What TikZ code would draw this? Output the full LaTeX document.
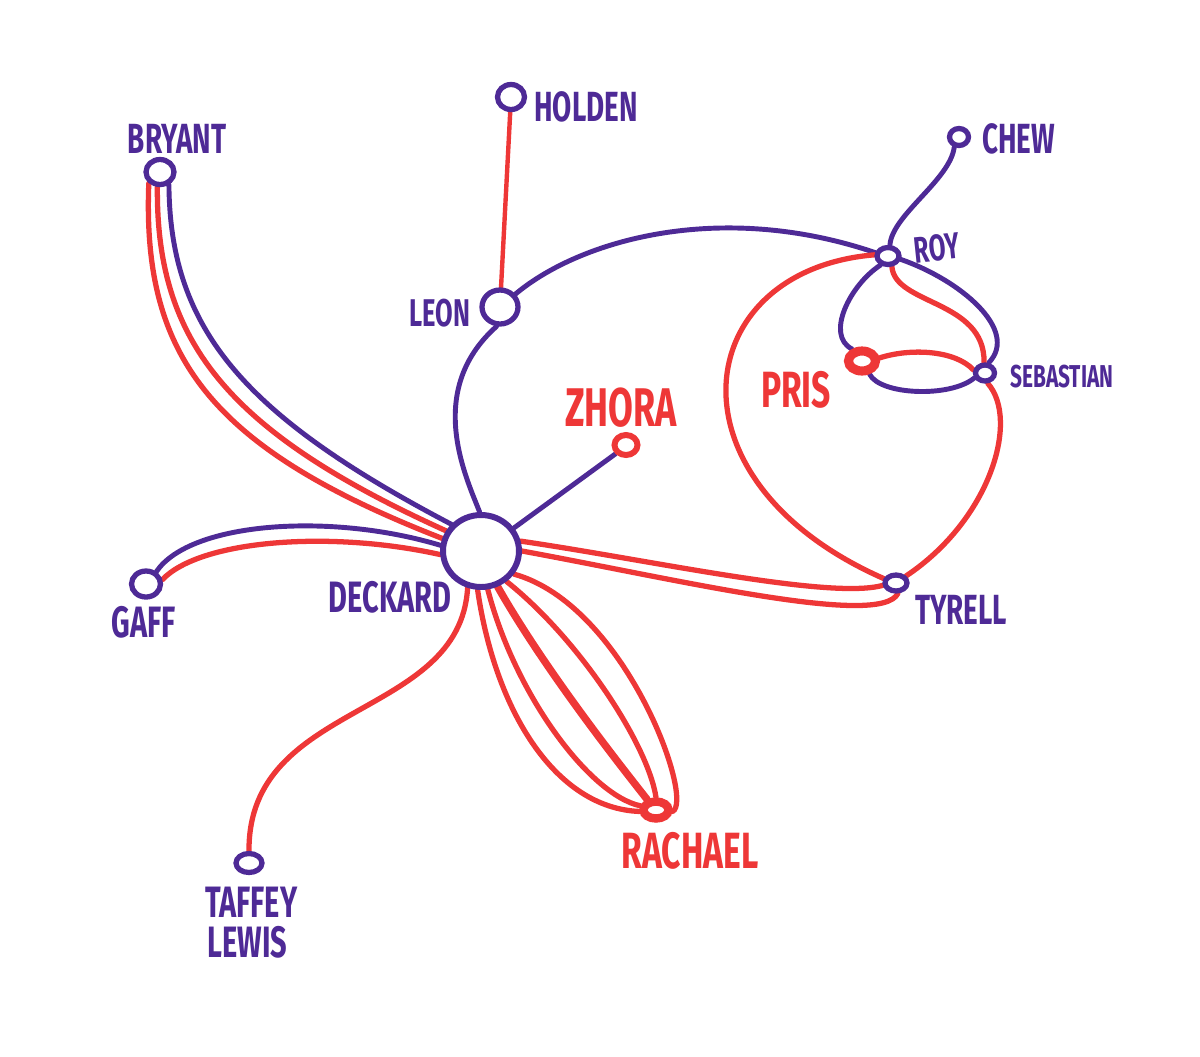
\documentclass[tikz,border=0pt]{standalone}
\usepackage{fontspec}
\usetikzlibrary{shapes.geometric,backgrounds}
\newfontfamily\hand[FakeStretch=0.66]{Fira Sans}
\definecolor{purp}{RGB}{78,42,150}
\definecolor{redm}{RGB}{238,55,55}
\begin{document}
\begin{tikzpicture}[x=0.02cm,y=-0.02cm,
  pnode/.style={ellipse,draw=purp,line width=3pt,fill=white,inner sep=0pt},
  rnode/.style={ellipse,draw=redm,line width=4.5pt,fill=white,inner sep=0pt},
  pedge/.style={draw=purp,line width=2.8pt,line cap=round},
  redge/.style={draw=redm,line width=3pt,line cap=round},
  lab/.style={inner sep=0pt,font=\hand\bfseries\fontsize{#1}{#1}\selectfont},
  plab/.style={lab=#1,text=purp},
  rlab/.style={lab=#1,text=redm}]
\useasboundingbox (0,0) rectangle (1200,1056);
% nodes
\node[pnode,minimum width=1.52cm,minimum height=1.44cm,line width=3.4pt] (deckard) at (481,551) {};
\node[pnode,minimum width=0.72cm,minimum height=0.68cm] (leon) at (500,307) {};
\node[pnode,minimum width=0.54cm,minimum height=0.50cm] (holden) at (511,97) {};
\node[pnode,minimum width=0.56cm,minimum height=0.50cm] (bryant) at (160,172) {};
\node[pnode,minimum width=0.58cm,minimum height=0.52cm] (gaff) at (146,584) {};
\node[pnode,minimum width=0.52cm,minimum height=0.38cm] (taffey) at (249,863) {};
\node[rnode,minimum width=0.46cm,minimum height=0.40cm,line width=3.4pt] (zhora) at (626,445) {};
\node[rnode,minimum width=0.50cm,minimum height=0.34cm,line width=4.8pt] (rachael) at (656,810) {};
\node[pnode,minimum width=0.44cm,minimum height=0.32cm] (tyrell) at (896,583) {};
\node[pnode,minimum width=0.44cm,minimum height=0.34cm] (roy) at (888,256) {};
\node[pnode,minimum width=0.38cm,minimum height=0.32cm] (sebastian) at (985,373) {};
\node[pnode,minimum width=0.38cm,minimum height=0.34cm] (chew) at (959,137) {};
\node[rnode,minimum width=0.54cm,minimum height=0.40cm,line width=5.2pt] (pris) at (862,361) {};
% labels
\node[plab=24] (lholden) at (586,107) {HOLDEN};
\node[plab=24] (lbryant) at (177,139) {BRYANT};
\node[plab=24,anchor=west] (lchew) at (982,139) {CHEW};
\node[plab=21,rotate=6] (lroy) at (937,248) {ROY};
\node[plab=22] (lleon) at (440,313) {LEON};
\node[plab=18] (lsebastian) at (1062,377) {SEBASTIAN};
\node[rlab=31] (lzhora) at (621,408) {ZHORA};
\node[rlab=29] (lpris) at (796,390) {PRIS};
\node[plab=25] (ldeckard) at (390,597) {DECKARD};
\node[plab=25] (lgaff) at (144,622) {GAFF};
\node[plab=24] (ltyrell) at (961,610) {TYRELL};
\node[rlab=29] (lrachael) at (690,851) {RACHAEL};
\node[plab=25,anchor=west] (ltaffey) at (205,902) {TAFFEY};
\node[plab=25,anchor=west] (llewis) at (207,942) {LEWIS};
% edges
\begin{pgfonlayer}{background}
\draw[redge,line width=2.5pt] (holden) -- (leon);
\draw[pedge] (leon.40) .. controls (580,240) and (720,200) .. (roy.165);
\draw[pedge] (leon.-100) .. controls (425,390) and (465,475) .. (deckard.92);
\draw[pedge] (deckard.35) -- (zhora.-140);
\draw[pedge] (bryant.-55) .. controls (170,330) and (245,416) .. (deckard.138);
\draw[redge] (bryant.-100) .. controls (156,342) and (228,432) .. (deckard.150);
\draw[redge] (bryant.-135) .. controls (142,356) and (210,448) .. (deckard.162);
\draw[pedge] (gaff.50) .. controls (190,522) and (330,512) .. (deckard.172);
\draw[redge] (gaff.15) .. controls (200,540) and (330,530) .. (deckard.185);
\draw[redge] (deckard.-110) .. controls (460,720) and (248,700) .. (taffey.90);
\draw[redge] (deckard.-95) .. controls (495,710) and (555,808) .. (rachael.185);
\draw[redge] (deckard.-80) .. controls (515,695) and (590,795) .. (rachael.165);
\draw[redge,line width=4.2pt] (deckard.-65) .. controls (545,670) and (620,765) .. (rachael.130);
\draw[redge] (deckard.-50) .. controls (580,640) and (648,745) .. (rachael.90);
\draw[redge] (deckard.-35) .. controls (625,605) and (695,800) .. (rachael.-5);
\draw[redge] (deckard.14) .. controls (650,560) and (830,600) .. (tyrell.190);
\draw[redge] (deckard.0) .. controls (680,580) and (880,628) .. (tyrell.-80);
\draw[redge] (roy.175) .. controls (690,270) and (660,480) .. (tyrell.160);
\draw[redge] (tyrell.35) .. controls (990,520) and (1020,420) .. (sebastian.-75);
\draw[pedge] (roy.80) .. controls (892,215) and (950,180) .. (chew.-115);
\draw[pedge] (roy.-15) .. controls (960,280) and (1020,330) .. (sebastian.70);
\draw[redge] (roy.-70) .. controls (895,305) and (985,300) .. (sebastian.95);
\draw[pedge] (roy.-130) .. controls (850,285) and (825,335) .. (pris.130);
\draw[redge] (pris.10) .. controls (910,348) and (955,350) .. (sebastian.165);
\draw[pedge] (pris.-60) .. controls (880,395) and (950,398) .. (sebastian.-155);
\end{pgfonlayer}
\end{tikzpicture}
\end{document}
